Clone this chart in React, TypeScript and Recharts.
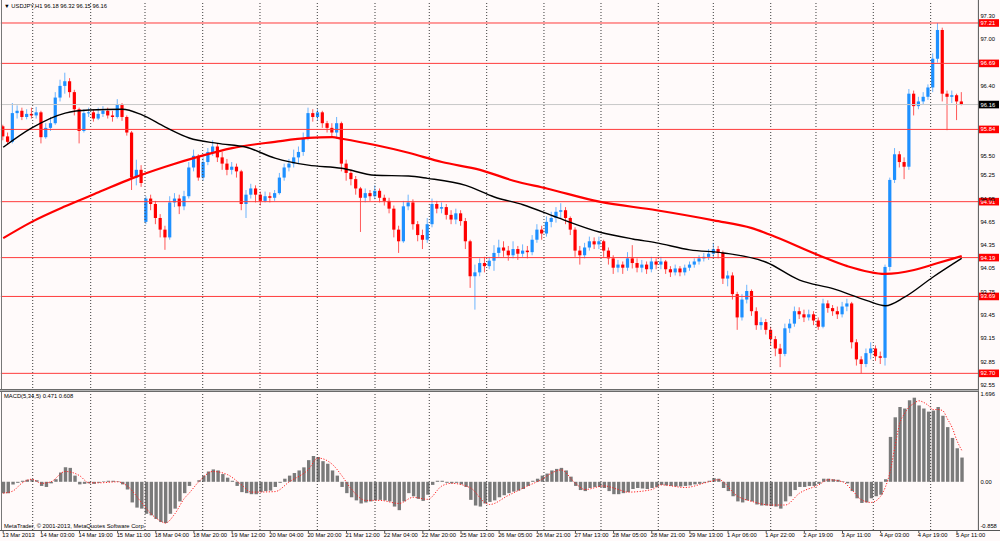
import React from "react";
import { ComposedChart, Bar, Line, XAxis, YAxis, ReferenceLine } from "recharts";

const FONT = "'Liberation Sans', Arial, sans-serif";
const FS = 5.8;
const BG = "#fffafa";
const BULL = "#1e90ff";
const BEAR = "#ff0000";

// ---- USDJPY H1 (drawn as 2-hour candles) ----
const opens = [
  95.88,95.75,95.68,96.05,96.08,96.00,96.04,96.02,96.06,95.74,
  95.86,95.92,96.25,96.40,96.46,96.32,96.10,95.82,96.05,96.06,
  95.98,96.04,96.08,96.02,96.00,96.16,96.00,95.80,95.22,95.32,
  94.65,94.95,94.88,94.70,94.55,94.45,94.90,94.95,94.85,94.98,
  95.35,95.50,95.22,95.42,95.55,95.62,95.48,95.40,95.32,95.36,
  95.30,94.88,95.00,95.08,95.00,94.92,94.98,94.96,95.02,95.22,
  95.35,95.40,95.48,95.55,95.72,96.05,96.00,96.06,95.92,95.86,
  95.80,95.92,95.40,95.28,95.20,95.08,94.96,95.02,94.98,95.05,
  94.96,94.92,94.82,94.55,94.40,94.85,94.90,94.62,94.48,94.42,
  94.62,94.88,94.82,94.84,94.74,94.68,94.76,94.66,94.40,93.95,
  94.00,94.12,94.08,94.15,94.25,94.32,94.28,94.22,94.30,94.24,
  94.28,94.26,94.42,94.55,94.50,94.65,94.70,94.78,94.80,94.70,
  94.55,94.28,94.22,94.32,94.40,94.36,94.40,94.28,94.18,94.06,
  94.10,94.06,94.18,94.12,94.06,94.10,94.04,94.14,94.10,94.14,
  94.04,94.00,94.05,94.00,94.06,94.10,94.14,94.18,94.20,94.24,
  94.30,94.25,93.92,93.96,93.72,93.42,93.65,93.76,93.50,93.32,
  93.36,93.26,93.14,93.02,92.95,93.28,93.34,93.50,93.46,93.42,
  93.46,93.38,93.30,93.60,93.54,93.50,93.46,93.56,93.60,93.10,
  92.88,92.82,92.96,93.02,92.92,92.90,94.07,95.19,95.52,95.42,
  95.36,96.30,96.14,96.20,96.26,96.38,96.75,97.12,96.30,96.26,
  96.28,96.20,
];
const highs = [
  95.90,95.80,96.18,96.15,96.12,96.10,96.12,96.13,96.08,95.92,
  96.00,96.32,96.48,96.57,96.50,96.35,96.12,96.10,96.12,96.10,
  96.12,96.14,96.12,96.08,96.23,96.18,96.02,95.82,95.45,95.38,
  94.98,95.00,94.92,94.75,94.60,94.98,95.02,95.00,95.05,95.42,
  95.58,95.52,95.48,95.60,95.70,95.66,95.55,95.46,95.42,95.40,
  95.32,95.06,95.14,95.12,95.04,95.04,95.03,95.06,95.28,95.40,
  95.46,95.58,95.62,95.80,96.12,96.10,96.10,96.08,95.95,95.92,
  96.00,95.94,95.45,95.32,95.24,95.10,95.08,95.06,95.12,95.08,
  95.00,94.96,94.86,94.60,94.92,95.00,94.94,94.66,94.55,94.70,
  94.95,94.92,94.90,94.88,94.80,94.82,94.80,94.70,94.42,94.10,
  94.18,94.20,94.20,94.35,94.42,94.40,94.34,94.40,94.34,94.36,
  94.34,94.48,94.62,94.60,94.72,94.78,94.84,94.89,94.84,94.72,
  94.58,94.34,94.38,94.46,94.45,94.46,94.42,94.32,94.22,94.16,
  94.14,94.26,94.35,94.18,94.16,94.14,94.20,94.18,94.20,94.16,
  94.08,94.10,94.08,94.10,94.14,94.18,94.22,94.25,94.30,94.38,
  94.34,94.28,94.02,94.00,93.75,93.72,93.84,93.78,93.55,93.42,
  93.40,93.30,93.18,93.08,93.34,93.40,93.56,93.55,93.52,93.52,
  93.50,93.42,93.66,93.64,93.58,93.56,93.62,93.66,93.62,93.14,
  92.92,93.02,93.10,93.06,92.98,94.10,95.22,95.60,95.56,95.48,
  96.36,96.34,96.26,96.32,96.42,96.82,97.21,97.15,96.34,96.34,
  96.30,96.32,
];
const lows = [
  95.70,95.64,95.66,95.98,95.96,95.97,95.98,95.98,95.66,95.72,
  95.82,95.90,96.20,96.30,96.25,96.02,95.66,95.80,96.00,95.94,
  95.96,96.00,95.98,95.94,95.98,95.95,95.76,95.06,95.12,95.10,
  94.62,94.80,94.62,94.45,94.29,94.42,94.84,94.75,94.80,94.95,
  95.30,95.18,95.18,95.38,95.50,95.42,95.32,95.25,95.26,95.22,
  94.80,94.70,94.95,94.90,94.86,94.90,94.90,94.92,95.00,95.18,
  95.30,95.35,95.40,95.50,95.70,95.94,95.95,95.86,95.80,95.74,
  95.72,95.30,95.18,95.12,95.00,94.52,94.90,94.92,94.94,94.90,
  94.86,94.76,94.45,94.25,94.38,94.80,94.55,94.40,94.30,94.38,
  94.58,94.76,94.76,94.68,94.62,94.62,94.60,94.30,93.80,93.52,
  93.95,94.00,94.04,94.02,94.20,94.20,94.15,94.18,94.16,94.20,
  94.18,94.22,94.38,94.42,94.46,94.58,94.64,94.70,94.62,94.48,
  94.20,94.10,94.18,94.28,94.30,94.30,94.20,94.10,93.98,94.00,
  93.98,94.02,94.05,94.00,94.00,93.98,94.00,94.04,94.04,93.98,
  93.94,93.96,93.95,93.96,94.02,94.06,94.10,94.14,94.16,94.18,
  94.18,93.85,93.82,93.65,93.26,93.38,93.60,93.44,93.26,93.26,
  93.20,93.06,92.92,92.78,92.92,93.22,93.30,93.40,93.36,93.38,
  93.32,93.26,93.28,93.48,93.44,93.40,93.42,93.50,93.02,92.80,
  92.70,92.78,92.88,92.86,92.82,92.80,94.02,95.15,95.35,95.20,
  95.32,96.02,96.10,96.16,96.22,96.32,96.70,96.20,95.83,96.18,
  95.96,96.15,
];
const closes = [
  95.75,95.68,96.05,96.08,96.00,96.04,96.02,96.06,95.74,95.86,
  95.92,96.25,96.40,96.46,96.32,96.10,95.82,96.05,96.06,95.98,
  96.04,96.08,96.02,96.00,96.16,96.00,95.80,95.22,95.32,95.15,
  94.95,94.88,94.70,94.55,94.45,94.90,94.95,94.85,94.98,95.35,
  95.50,95.22,95.42,95.55,95.62,95.48,95.40,95.32,95.36,95.30,
  94.88,95.00,95.08,95.00,94.92,94.98,94.96,95.02,95.22,95.35,
  95.40,95.48,95.55,95.72,96.05,96.00,96.06,95.92,95.86,95.80,
  95.92,95.40,95.28,95.20,95.08,94.96,95.02,94.98,95.05,94.96,
  94.92,94.82,94.55,94.40,94.85,94.90,94.62,94.48,94.42,94.62,
  94.88,94.82,94.84,94.74,94.68,94.76,94.66,94.40,93.95,94.00,
  94.12,94.08,94.15,94.25,94.32,94.28,94.22,94.30,94.24,94.28,
  94.26,94.42,94.55,94.50,94.65,94.70,94.78,94.80,94.70,94.55,
  94.28,94.22,94.32,94.40,94.36,94.40,94.28,94.18,94.06,94.10,
  94.06,94.18,94.12,94.06,94.10,94.04,94.14,94.10,94.14,94.04,
  94.00,94.05,94.00,94.06,94.10,94.14,94.18,94.20,94.24,94.30,
  94.25,93.92,93.96,93.72,93.42,93.65,93.76,93.50,93.32,93.36,
  93.26,93.14,93.02,92.95,93.28,93.34,93.50,93.46,93.42,93.46,
  93.38,93.30,93.60,93.54,93.50,93.46,93.56,93.60,93.10,92.88,
  92.82,92.96,93.02,92.92,92.90,94.07,95.19,95.52,95.42,95.36,
  96.30,96.14,96.20,96.26,96.38,96.75,97.12,96.30,96.26,96.28,
  96.20,96.16,
];

// moving averages: [bar index, value] points
const maFast: [number, number][] = [
  [0,95.61],[6,95.86],[13,96.05],[18,96.09],[25,96.10],[29,96.03],[34,95.87],[39,95.73],
  [45,95.66],[51,95.61],[57,95.47],[64,95.38],[71,95.34],[78,95.25],[85,95.24],[89,95.21],
  [97,95.12],[103,94.97],[109,94.87],[116,94.71],[125,94.52],[132,94.43],[137,94.38],
  [144,94.29],[151,94.25],[160,94.13],[167,93.90],[174,93.79],[181,93.64],[185,93.57],
  [189,93.68],[195,93.94],[201,94.18],
];
const maSlow: [number, number][] = [
  [0,94.44],[6,94.65],[13,94.85],[20,95.03],[27,95.21],[34,95.36],[41,95.49],[48,95.60],
  [57,95.68],[64,95.73],[69,95.74],[71,95.72],[78,95.64],[85,95.54],[92,95.42],[100,95.32],
  [107,95.18],[114,95.08],[125,94.91],[137,94.80],[149,94.67],[157,94.57],[161,94.48],
  [171,94.22],[177,94.08],[185,93.98],[191,94.03],[196,94.12],[201,94.21],
];

// MACD(5,34,5)
const macdMain = [
  -0.22,-0.22,-0.05,-0.02,0.02,0.04,0.05,0.03,-0.08,-0.10,
  -0.03,0.05,0.18,0.28,0.27,0.12,-0.05,-0.04,-0.03,-0.04,
  -0.02,0.01,0.02,0.02,0.01,-0.05,-0.15,-0.40,-0.50,-0.52,
  -0.62,-0.65,-0.72,-0.78,-0.80,-0.62,-0.52,-0.38,-0.22,-0.08,
  0.00,0.03,0.12,0.20,0.24,0.22,0.15,0.08,0.02,-0.08,
  -0.20,-0.22,-0.24,-0.24,-0.20,-0.18,-0.17,-0.10,-0.02,0.06,
  0.12,0.17,0.22,0.28,0.42,0.50,0.48,0.40,0.35,0.22,
  0.12,-0.10,-0.22,-0.30,-0.36,-0.42,-0.40,-0.38,-0.36,-0.35,
  -0.36,-0.38,-0.48,-0.55,-0.38,-0.22,-0.28,-0.33,-0.37,-0.25,
  -0.06,0.02,0.02,-0.02,-0.03,-0.02,-0.05,-0.10,-0.35,-0.46,
  -0.48,-0.42,-0.39,-0.36,-0.30,-0.26,-0.22,-0.19,-0.17,-0.14,
  -0.08,0.02,0.06,0.12,0.16,0.22,0.25,0.27,0.22,0.10,
  -0.08,-0.16,-0.18,-0.12,-0.10,-0.10,-0.12,-0.18,-0.24,-0.24,
  -0.22,-0.20,-0.14,-0.12,-0.13,-0.14,-0.12,-0.10,-0.06,-0.07,
  -0.08,-0.09,-0.09,-0.08,-0.07,-0.05,-0.04,-0.02,0.02,0.07,
  0.06,-0.12,-0.18,-0.28,-0.38,-0.40,-0.36,-0.38,-0.44,-0.46,
  -0.46,-0.47,-0.48,-0.52,-0.38,-0.28,-0.16,-0.10,-0.10,-0.08,
  -0.08,-0.04,0.06,0.06,0.05,0.04,0.01,-0.03,-0.18,-0.32,
  -0.41,-0.40,-0.32,-0.28,-0.25,0.05,0.87,1.25,1.45,1.42,
  1.58,1.63,1.48,1.42,1.36,1.38,1.45,1.28,1.06,0.85,
  0.65,0.47,
];
const macdSignal: [number, number][] = [
  [0,-0.22],[2,-0.18],[4,-0.02],[6,0.05],[8,-0.03],[10,0.0],[13,0.20],[16,0.12],[18,-0.02],
  [20,-0.02],[24,0.0],[26,-0.08],[29,-0.40],[31,-0.62],[33,-0.76],[34,-0.80],[36,-0.62],
  [38,-0.32],[39,-0.22],[41,0.0],[44,0.20],[47,0.14],[50,-0.06],[52,-0.20],[57,-0.19],
  [60,0.0],[64,0.24],[66,0.46],[69,0.34],[71,0.12],[73,-0.14],[76,-0.36],[79,-0.36],
  [83,-0.42],[86,-0.30],[89,-0.34],[92,-0.08],[94,-0.03],[98,-0.12],[101,-0.40],[102,-0.44],
  [106,-0.26],[110,-0.08],[113,0.05],[115,0.17],[117,0.23],[120,-0.03],[122,-0.15],
  [126,-0.08],[129,-0.15],[131,-0.20],[136,-0.15],[138,-0.06],[143,-0.11],[148,0.0],
  [150,0.04],[154,-0.28],[157,-0.38],[161,-0.45],[164,-0.45],[167,-0.22],[171,-0.06],
  [173,0.04],[176,0.0],[178,-0.16],[180,-0.35],[182,-0.40],[184,-0.28],[185,-0.10],
  [186,0.20],[187,0.68],[188,1.13],[189,1.32],[190,1.45],[191,1.52],[192,1.57],[193,1.54],
  [194,1.48],[195,1.40],[196,1.40],[197,1.38],[198,1.22],[199,1.05],[200,0.80],[201,0.61],
];

const timeLabels = [
  "13 Mar 2013","14 Mar 03:00","14 Mar 19:00","15 Mar 11:00","18 Mar 04:00","18 Mar 20:00",
  "19 Mar 12:00","20 Mar 04:00","20 Mar 20:00","21 Mar 12:00","22 Mar 04:00","22 Mar 20:00",
  "25 Mar 13:00","26 Mar 05:00","26 Mar 21:00","27 Mar 13:00","28 Mar 05:00","28 Mar 21:00",
  "29 Mar 13:00","1 Apr 06:00","1 Apr 22:00","2 Apr 19:00","3 Apr 11:00","4 Apr 03:00",
  "4 Apr 19:00","5 Apr 11:00",
];
const LABEL_STEP = 8;
// day separators, in bar units
const daySeparators = [6.19,18.35,29.74,41.84,53.85,65.87,77.97,89.35,101.39,113.4,125.36,137.37,148.91,160.95,170.44,182.46,194.49];
const levels = [97.21, 96.69, 95.84, 94.91, 94.19, 93.69, 92.70];
const lastPrice = 96.16;
const priceTicks = [97.3, 97.0, 96.4, 95.5, 95.25, 94.95, 94.65, 94.35, 94.05, 93.75, 93.45, 93.15, 92.85, 92.55];
const macdTicks = [1.696, 0, -0.858];
const SLOTS = 205;
const PRICE_DOMAIN: [number, number] = [92.5114, 97.4802];
const MACD_DOMAIN: [number, number] = [-0.9341, 1.7403];

const fastMap = new Map(maFast);
const slowMap = new Map(maSlow);
const sigMap = new Map(macdSignal);

const data = Array.from({ length: SLOTS }, (_, i) => {
  const row: any = { i };
  if (i < closes.length) {
    row.o = opens[i];
    row.h = highs[i];
    row.l = lows[i];
    row.c = closes[i];
    row.hl = [lows[i], highs[i]];
    row.m = macdMain[i];
  }
  if (fastMap.has(i)) row.fast = fastMap.get(i);
  if (slowMap.has(i)) row.slow = slowMap.get(i);
  if (sigMap.has(i)) row.sig = sigMap.get(i);
  return row;
});

const labelTicks = timeLabels.map((_, k) => k * LABEL_STEP);

const Candle = (props: any) => {
  const { x, y, width, height, payload } = props;
  if (!payload || payload.o == null) return <g />;
  const { o, h, l, c } = payload;
  const top = Math.min(y, y + height);
  const bottom = Math.max(y, y + height);
  const span = bottom - top;
  const range = h - l || 1e-9;
  const yO = top + ((h - o) / range) * span;
  const yC = top + ((h - c) / range) * span;
  const color = c >= o ? BULL : BEAR;
  const cx = x + width / 2;
  const bw = 3.2;
  const bt = Math.min(yO, yC);
  const bh = Math.max(Math.abs(yO - yC), 1);
  return (
    <g>
      <line x1={cx} x2={cx} y1={top} y2={bottom} stroke={color} strokeWidth={1} strokeOpacity={0.65} />
      <rect x={cx - bw / 2} y={bt} width={bw} height={bh} fill={color} />
    </g>
  );
};

const PriceTag = (props: any) => {
  const { viewBox, price, fill } = props;
  if (!viewBox) return null;
  const x = viewBox.x + viewBox.width + 0.6;
  const y = viewBox.y;
  return (
    <g>
      <rect x={x} y={y - 3.8} width={20} height={7.6} fill={fill} />
      <text x={x + 1.6} y={y} dominantBaseline="central" fontSize={FS} fontFamily={FONT} fill="#ffffff">
        {price.toFixed(2)}
      </text>
    </g>
  );
};

const PriceTick = (props: any) => {
  const { x, y, payload } = props;
  return (
    <text x={x + 2} y={y} dominantBaseline="central" fontSize={FS} fontFamily={FONT} fill="#000">
      {Number(payload.value).toFixed(2)}
    </text>
  );
};

const MacdTick = (props: any) => {
  const { x, y, payload } = props;
  const v = Number(payload.value);
  return (
    <text x={x + 2} y={y} dominantBaseline="central" fontSize={FS} fontFamily={FONT} fill="#000">
      {v === 0 ? "0.00" : v.toFixed(3)}
    </text>
  );
};

const TimeTick = (props: any) => {
  const { x, y, payload } = props;
  const label = timeLabels[Math.round(Number(payload.value) / LABEL_STEP)];
  return (
    <text x={x - 1} y={y} dy="0.71em" textAnchor="start" fontSize={FS} fontFamily={FONT} fill="#000">
      {label}
    </text>
  );
};

const gridLines = (id: string) =>
  daySeparators.map((d, k) => (
    <ReferenceLine key={id + k} xAxisId="g" x={d} stroke="#3a3a3a" strokeDasharray="1 2" strokeWidth={1} />
  ));

export default function App() {
  return (
    <div style={{ position: "absolute", left: 0, top: 0, width: 1000, height: 541, background: BG, overflow: "hidden" }}>
      <div style={{ position: "absolute", left: 0, top: 0 }}>
        <ComposedChart width={1000} height={390} data={data} margin={{ top: 2, right: 0, bottom: 2, left: 0.8 }}>
          <XAxis dataKey="i" type="category" hide />
          <XAxis xAxisId="g" dataKey="i" type="number" domain={[-0.5, SLOTS - 0.5]} allowDataOverflow hide />
          <YAxis
            orientation="right"
            width={21.6}
            domain={PRICE_DOMAIN}
            allowDataOverflow
            ticks={priceTicks}
            interval={0}
            axisLine={false}
            tickLine={false}
            tickSize={0}
            tickMargin={0}
            tick={<PriceTick />}
          />
          {gridLines("p")}
          <ReferenceLine y={lastPrice} stroke="#c8c8c8" strokeWidth={1} label={<PriceTag price={lastPrice} fill="#000000" />} />
          {levels.map((lv) => (
            <ReferenceLine key={lv} y={lv} stroke="#ff3b3b" strokeWidth={1} label={<PriceTag price={lv} fill="#ff0000" />} />
          ))}
          <Bar dataKey="hl" barSize={4} shape={<Candle />} isAnimationActive={false} />
          <Line dataKey="slow" type="monotone" stroke="#ff0000" strokeWidth={2.2} dot={false} connectNulls isAnimationActive={false} />
          <Line dataKey="fast" type="monotone" stroke="#000000" strokeWidth={1.4} dot={false} connectNulls isAnimationActive={false} />
        </ComposedChart>
      </div>
      <div style={{ position: "absolute", left: 0, top: 390 }}>
        <ComposedChart width={1000} height={151} data={data} margin={{ top: 2, right: 0, bottom: 0, left: 0.8 }}>
          <XAxis
            dataKey="i"
            type="category"
            height={11}
            ticks={labelTicks}
            interval={0}
            axisLine={false}
            tickLine={{ stroke: "#555" }}
            tickSize={3}
            tickMargin={0}
            tick={<TimeTick />}
          />
          <XAxis xAxisId="g" dataKey="i" type="number" domain={[-0.5, SLOTS - 0.5]} allowDataOverflow hide />
          <YAxis
            orientation="right"
            width={21.6}
            domain={MACD_DOMAIN}
            allowDataOverflow
            ticks={macdTicks}
            interval={0}
            axisLine={false}
            tickLine={false}
            tickSize={0}
            tickMargin={0}
            tick={<MacdTick />}
          />
          {gridLines("m")}
          <Bar dataKey="m" barSize={3.4} fill="#7a7a7a" isAnimationActive={false} />
          <Line dataKey="sig" type="monotone" stroke="#ff2020" strokeWidth={1} strokeDasharray="1.2 1.6" dot={false} connectNulls isAnimationActive={false} />
        </ComposedChart>
      </div>
      <svg width={1000} height={541} style={{ position: "absolute", left: 0, top: 0, pointerEvents: "none" }}>
        <line x1={1.5} y1={0} x2={1.5} y2={530.5} stroke="#777" strokeWidth={1} />
        <line x1={978.4} y1={0} x2={978.4} y2={530.5} stroke="#555" strokeWidth={1} />
        <line x1={0} y1={389.5} x2={978.4} y2={389.5} stroke="#6a6a6a" strokeWidth={1} />
        <line x1={0} y1={390.5} x2={978.4} y2={390.5} stroke="#b4b4b4" strokeWidth={1} />
        <line x1={0} y1={391.5} x2={978.4} y2={391.5} stroke="#6a6a6a" strokeWidth={1} />
        <line x1={0} y1={530.5} x2={1000} y2={530.5} stroke="#555" strokeWidth={1} />
        <text x={4} y={8} fontSize={FS} fontFamily={FONT} fill="#000">▼ USDJPY,H1  96.18 96.32 96.15 96.16</text>
        <text x={4} y={398} fontSize={FS} fontFamily={FONT} fill="#000">MACD(5,34,5) 0.471 0.608</text>
        <text x={4} y={528} fontSize={FS} fontFamily={FONT} fill="#000">MetaTrader, © 2001-2013, MetaQuotes Software Corp.</text>
      </svg>
    </div>
  );
}
